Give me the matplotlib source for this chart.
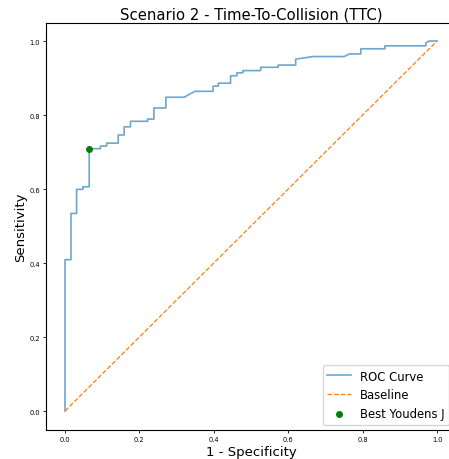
import matplotlib
matplotlib.use("Agg")
import matplotlib.pyplot as plt

# ROC curve vertices (1 - specificity, sensitivity)
fpr = [0.0, 0.0, 0.016, 0.016, 0.031, 0.031, 0.048, 0.048, 0.065, 0.065,
       0.095, 0.095, 0.112, 0.112, 0.143, 0.143, 0.159, 0.159, 0.176, 0.176,
       0.222, 0.222, 0.239, 0.239, 0.271, 0.271, 0.320, 0.349, 0.398, 0.398,
       0.412, 0.412, 0.445, 0.445, 0.462, 0.462, 0.478, 0.478, 0.526, 0.526,
       0.573, 0.573, 0.620, 0.620, 0.667, 0.751, 0.764, 0.795, 0.795, 0.860,
       0.860, 0.970, 0.970, 0.979, 1.0]
tpr = [0.0, 0.409, 0.409, 0.534, 0.534, 0.599, 0.599, 0.606, 0.606, 0.709,
       0.709, 0.716, 0.716, 0.724, 0.724, 0.746, 0.746, 0.768, 0.768, 0.783,
       0.783, 0.789, 0.789, 0.819, 0.819, 0.848, 0.848, 0.864, 0.864, 0.878,
       0.878, 0.886, 0.886, 0.906, 0.906, 0.914, 0.914, 0.920, 0.920, 0.929,
       0.929, 0.935, 0.935, 0.951, 0.958, 0.958, 0.965, 0.965, 0.979, 0.979,
       0.987, 0.987, 0.995, 1.0, 1.0]

baseline = [0.0, 1.0]
best_fpr = 0.065
best_tpr = 0.709

fig = plt.figure(figsize=(4.49, 4.60), dpi=100)
ax = fig.add_axes([0.1034, 0.0641, 0.9114, 0.8848])

ax.plot(fpr, tpr, color="#1f77b4", lw=1.2, alpha=0.65, label="ROC Curve")
ax.plot(baseline, baseline, color="#ff7f0e", lw=0.9, ls="--", label="Baseline")
ax.scatter([best_fpr], [best_tpr], color="green", s=16, zorder=3, label="Best Youdens J")

ax.set_xticks([0.0, 0.2, 0.4, 0.6, 0.8, 1.0])
ax.set_yticks([0.0, 0.2, 0.4, 0.6, 0.8, 1.0])
ax.tick_params(labelsize=4.8, length=2.5, width=0.6, pad=2)
ax.spines["right"].set_visible(False)

ax.set_title("Scenario 2 - Time-To-Collision (TTC)", fontsize=10.7, pad=3)
ax.set_xlabel("1 - Specificity", fontsize=9.5, labelpad=2)
ax.set_ylabel("Sensitivity", fontsize=9.5, labelpad=2)

ax.legend(loc="lower right", fontsize=8.4, borderaxespad=0.4,
          bbox_to_anchor=(0.996, 0.0))

plt.savefig("out.png", dpi=100)
plt.close()
